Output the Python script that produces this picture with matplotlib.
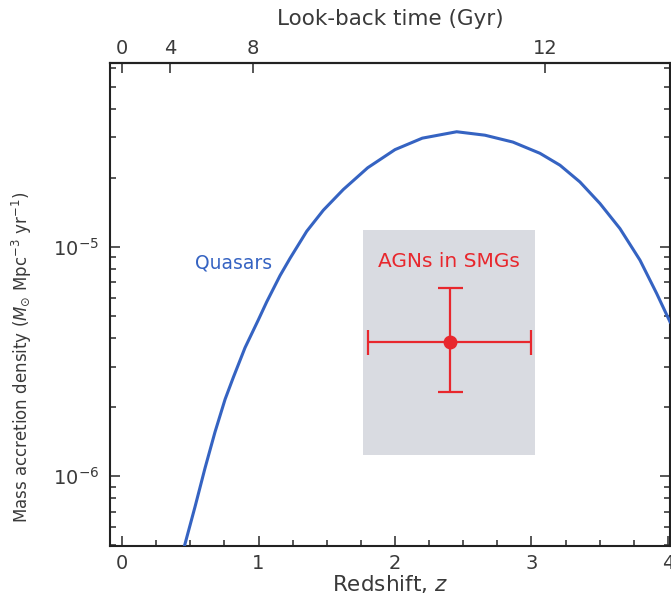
import numpy as np
import matplotlib
matplotlib.use("Agg")
import matplotlib.pyplot as plt
from matplotlib.ticker import LogLocator, MultipleLocator, NullFormatter

plt.rcParams['font.family'] = ['DejaVu Sans']
plt.rcParams['mathtext.fontset'] = 'dejavusans'

# quasar mass accretion density curve
z_qso = [0.455, 0.535, 0.608, 0.681, 0.755, 0.815, 0.901, 0.999, 1.060, 1.158,
         1.231, 1.353, 1.475, 1.621, 1.800, 2.000, 2.200, 2.452, 2.659, 2.864,
         3.062, 3.209, 3.355, 3.502, 3.648, 3.795, 3.917, 4.015]
rho_qso = [4.90e-7, 7.36e-7, 1.084e-6, 1.556e-6, 2.163e-6, 2.692e-6, 3.631e-6,
           4.808e-6, 5.754e-6, 7.499e-6, 8.913e-6, 1.169e-5, 1.445e-5, 1.778e-5,
           2.213e-5, 2.655e-5, 2.979e-5, 3.177e-5, 3.069e-5, 2.864e-5, 2.559e-5,
           2.270e-5, 1.919e-5, 1.545e-5, 1.202e-5, 8.750e-6, 6.266e-6, 4.710e-6]

# AGNs in SMGs
z_smg = 2.40
rho_smg = 3.84e-6
z_smg_lo, z_smg_hi = 1.80, 3.00
rho_smg_lo, rho_smg_hi = 2.32e-6, 6.6e-6
box_z = [1.766, 3.026]
box_rho = [1.24e-6, 1.18e-5]

# look-back time axis
lookback_labels = ["0", "4", "8", "12"]
lookback_z = [0.0, 0.35, 0.96, 3.10]

text_col = '#3a3a3a'
blue = '#3563c2'
red = '#e8272d'

fig = plt.figure(figsize=(6.71, 6.02), dpi=100)
ax = fig.add_axes([0.164, 0.093, 0.8345, 0.802])

ax.fill_between(box_z, box_rho[0], box_rho[1], color='#d9dbe1', lw=0, zorder=1)
ax.plot(z_qso, rho_qso, color=blue, lw=2.2, zorder=3, solid_joinstyle='round')

ax.errorbar([z_smg], [rho_smg],
            xerr=[[z_smg - z_smg_lo], [z_smg_hi - z_smg]],
            yerr=[[rho_smg - rho_smg_lo], [rho_smg_hi - rho_smg]],
            fmt='o', color=red, ms=9, elinewidth=1.6, capsize=9, capthick=1.6,
            zorder=4)

ax.text(1.10, 8.49e-6, "Quasars", color=blue, fontsize=13.5, ha='right', va='center')
ax.text(2.396, 8.6e-6, "AGNs in SMGs", color=red, fontsize=14.5, ha='center', va='center')

ax.set_yscale('log')
ax.set_xlim(-0.088, 4.015)
ax.set_ylim(10 ** -6.305, 10 ** -4.199)

ax.set_xticks([0, 1, 2, 3, 4])
ax.xaxis.set_minor_locator(MultipleLocator(0.25))
ax.yaxis.set_major_locator(LogLocator(base=10, numticks=10))
ax.yaxis.set_minor_locator(LogLocator(base=10, subs=np.arange(2, 10), numticks=20))
ax.yaxis.set_minor_formatter(NullFormatter())

ax.tick_params(which='both', direction='in', colors=text_col, labelsize=14,
               width=1.2, top=False, right=True)
ax.tick_params(which='major', length=7)
ax.tick_params(which='minor', length=4)
ax.tick_params(axis='x', pad=6)
ax.tick_params(axis='y', pad=8)
for s in ax.spines.values():
    s.set_linewidth(1.5)
    s.set_color('#222222')

ax.set_xlabel("Redshift, $z$", fontsize=15.5, color=text_col, labelpad=0)
ax.set_ylabel(r"Mass accretion density ($M_{\odot}$ Mpc$^{-3}$ yr$^{-1}$)",
              fontsize=12, color=text_col)
ax.yaxis.set_label_coords(-0.135, 0.391)

top = ax.secondary_xaxis('top')
top.set_xticks(lookback_z)
top.set_xticklabels(lookback_labels)
top.tick_params(direction='in', length=7, width=1.2, colors=text_col,
                labelsize=14, pad=4)
top.spines['top'].set_linewidth(1.5)
top.set_xlabel("Look-back time (Gyr)", fontsize=15.5, color=text_col, labelpad=10)

fig.savefig("out.png", dpi=100, facecolor='white')
